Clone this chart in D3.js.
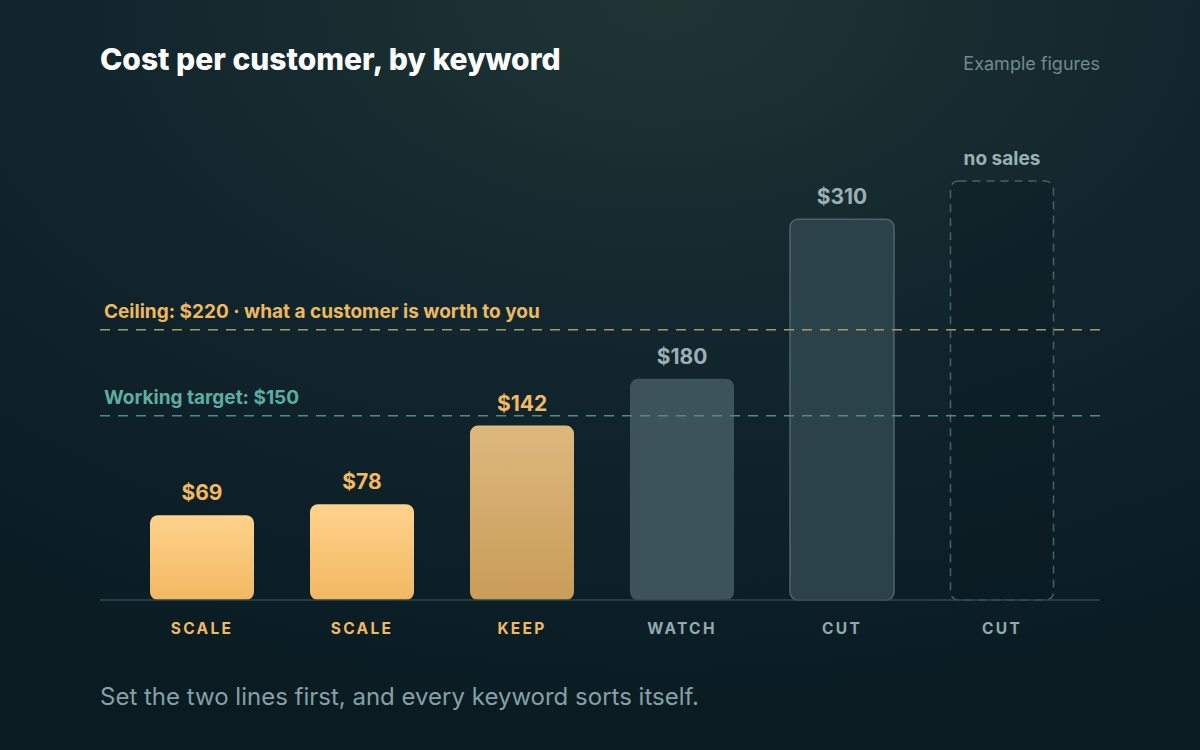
<!DOCTYPE html>
<html>
<head>
<meta charset="utf-8">
<script src="https://cdn.jsdelivr.net/npm/d3@7"></script>
<style>
  html, body { margin: 0; padding: 0; background: #0b1c24; }
  svg { display: block; font-family: Inter, "Noto Sans", sans-serif; }
</style>
</head>
<body>
<svg id="chart" width="1200" height="750"></svg>
<script>
// data
var keywords = ["k1", "k2", "k3", "k4", "k5", "k6"];
var costs = [69, 78, 142, 180, 310, null];   // null = no sales
var verdicts = ["SCALE", "SCALE", "KEEP", "WATCH", "CUT", "CUT"];
var targetValue = 150;
var ceilingValue = 220;

var W = 1200, H = 750;
var svg = d3.select("#chart");
var defs = svg.append("defs");

// background glow
var bg = defs.append("radialGradient").attr("id", "bg")
  .attr("cx", "0.55").attr("cy", "0").attr("r", "1.0");
bg.append("stop").attr("offset", "0").attr("stop-color", "#1f3534");
bg.append("stop").attr("offset", "0.45").attr("stop-color", "#12262d");
bg.append("stop").attr("offset", "1").attr("stop-color", "#0a1b22");
svg.append("rect").attr("width", W).attr("height", H).attr("fill", "url(#bg)");

var gradScale = defs.append("linearGradient").attr("id", "gScale")
  .attr("x1", 0).attr("y1", 0).attr("x2", 0).attr("y2", 1);
gradScale.append("stop").attr("offset", "0").attr("stop-color", "#ffd28c");
gradScale.append("stop").attr("offset", "1").attr("stop-color", "#f1b862");
var gradKeep = defs.append("linearGradient").attr("id", "gKeep")
  .attr("x1", 0).attr("y1", 0).attr("x2", 0).attr("y2", 1);
gradKeep.append("stop").attr("offset", "0").attr("stop-color", "#ddb87e");
gradKeep.append("stop").attr("offset", "1").attr("stop-color", "#c99d58");

var x = d3.scaleBand().domain(keywords).range([100, 1100]).paddingInner(0.35).paddingOuter(0.3);
var y = d3.scaleLinear().domain([0, 400]).range([600, 108.6]);
var maxCost = d3.max(costs);

// titles
svg.append("text").attr("x", 100).attr("y", 70)
  .attr("fill", "#ffffff").attr("font-size", 30).attr("font-weight", 800)
  .text("Cost per customer, by keyword");
svg.append("text").attr("x", 1100).attr("y", 70).attr("text-anchor", "end")
  .attr("fill", "#6f8b8d").attr("font-size", 18)
  .text("Example figures");

// bars
var bars = svg.append("g");
keywords.forEach(function(k, i) {
  var v = costs[i];
  var bx = x(k) + 2, bw = x.bandwidth();
  if (v === null) {
    var top = y(maxCost * 1.1);
    bars.append("rect").attr("x", bx + 0.5).attr("y", top).attr("width", bw - 1).attr("height", y(0) - top)
      .attr("rx", 8).attr("fill", "rgba(10,26,32,0.35)")
      .attr("stroke", "#4b6167").attr("stroke-width", 1.5).attr("stroke-dasharray", "8 6");
    svg.append("text").attr("x", bx + bw / 2).attr("y", 165).attr("text-anchor", "middle")
      .attr("fill", "#9bb0b3").attr("font-size", 19).attr("font-weight", 700)
      .text("no sales");
    return;
  }
  var fill, labelColor;
  if (v <= targetValue) {
    fill = i < 2 ? "url(#gScale)" : "url(#gKeep)";
    labelColor = "#f2b961";
  } else if (v <= ceilingValue * 0.9) {
    fill = "#3d535a"; labelColor = "#9bb0b3";
  } else {
    fill = "#2c4249"; labelColor = "#9bb0b3";
  }
  var r = bars.append("rect").attr("x", bx).attr("y", y(v)).attr("width", bw).attr("height", y(0) - y(v))
    .attr("rx", 8).attr("fill", fill);
  if (v > ceilingValue) r.attr("stroke", "#4e666b").attr("stroke-width", 1.5);
  svg.append("text").attr("x", bx + bw / 2).attr("y", y(v) - 15).attr("text-anchor", "middle")
    .attr("fill", labelColor).attr("font-size", 21).attr("font-weight", 700)
    .text("$" + v);
});

// baseline axis
svg.append("line").attr("x1", 100).attr("x2", 1100).attr("y1", y(0)).attr("y2", y(0))
  .attr("stroke", "#2f474e").attr("stroke-width", 1.5);

// reference lines
svg.append("line").attr("x1", 100).attr("x2", 1100).attr("y1", y(ceilingValue)).attr("y2", y(ceilingValue))
  .attr("stroke", "#a8976c").attr("stroke-width", 1.6).attr("stroke-dasharray", "10 8");
svg.append("text").attr("x", 104).attr("y", y(ceilingValue) - 12)
  .attr("fill", "#eeb85f").attr("font-size", 19).attr("font-weight", 700)
  .text("Ceiling: $" + ceilingValue + " \u00b7 what a customer is worth to you");
svg.append("line").attr("x1", 100).attr("x2", 1100).attr("y1", y(targetValue)).attr("y2", y(targetValue))
  .attr("stroke", "#4f8c89").attr("stroke-width", 1.6).attr("stroke-dasharray", "10 8");
svg.append("text").attr("x", 104).attr("y", y(targetValue) - 12)
  .attr("fill", "#5eae9f").attr("font-size", 19).attr("font-weight", 700)
  .text("Working target: $" + targetValue);

// verdict labels
keywords.forEach(function(k, i) {
  svg.append("text").attr("x", x(k) + 2 + x.bandwidth() / 2).attr("y", 634).attr("text-anchor", "middle")
    .attr("fill", i < 3 ? "#f2b961" : "#93a9ad").attr("font-size", 15.5).attr("font-weight", 700)
    .attr("letter-spacing", 2.3)
    .text(verdicts[i]);
});

svg.append("text").attr("x", 100).attr("y", 705)
  .attr("fill", "#86a0a5").attr("font-size", 24)
  .text("Set the two lines first, and every keyword sorts itself.");
</script>
</body>
</html>
